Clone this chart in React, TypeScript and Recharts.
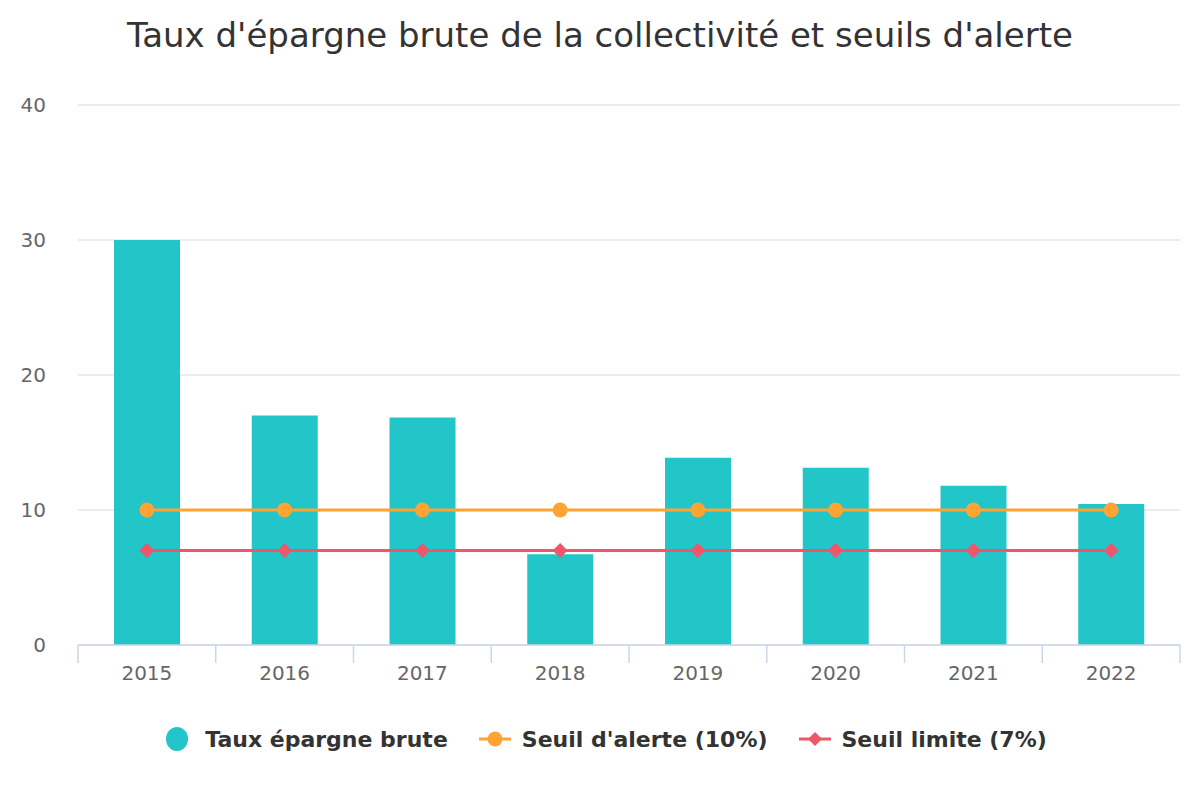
import React from "react";
import {
  Bar,
  CartesianGrid,
  ComposedChart,
  Line,
  XAxis,
  YAxis,
} from "recharts";

const YEARS = ["2015", "2016", "2017", "2018", "2019", "2020", "2021", "2022"];
const EPARGNE = [30.0, 17.0, 16.85, 6.72, 13.87, 13.13, 11.79, 10.45];
const SEUIL_ALERTE = [10, 10, 10, 10, 10, 10, 10, 10];
const SEUIL_LIMITE = [7, 7, 7, 7, 7, 7, 7, 7];
const Y_TICKS = [0, 10, 20, 30, 40];

const TEAL = "#22c5c8";
const ORANGE = "#ffa333";
const RED = "#f0566a";
const FONT = "'DejaVu Sans', sans-serif";

const WIDTH = 1200;
const MARGIN = { top: 105, right: 20, left: 0, bottom: 0 };
const Y_WIDTH = 78;
const BAND = (WIDTH - MARGIN.right - Y_WIDTH) / YEARS.length;
const X_MARGIN = 20;

const data = YEARS.map((year, i) => ({
  year,
  epargne: EPARGNE[i],
  alerte: SEUIL_ALERTE[i],
  limite: SEUIL_LIMITE[i],
}));

function YearTick(props: any) {
  const { x, y, payload, index } = props;
  const axisY = y - X_MARGIN;
  const left = x - BAND / 2;
  return (
    <g>
      <line x1={left} x2={left} y1={axisY} y2={axisY + 18} stroke="#ccd6eb" strokeWidth={1.5} />
      {index === YEARS.length - 1 && (
        <line x1={left + BAND} x2={left + BAND} y1={axisY} y2={axisY + 18} stroke="#ccd6eb" strokeWidth={1.5} />
      )}
      <text x={x} y={y} dy={15} textAnchor="middle" fill="#666666" fontSize={20} fontFamily={FONT}>
        {payload.value}
      </text>
    </g>
  );
}

function Diamond(props: any) {
  const { cx, cy } = props;
  if (cx == null || cy == null) return null;
  const r = 7.5;
  return (
    <path
      d={`M${cx},${cy - r} L${cx + r},${cy} L${cx},${cy + r} L${cx - r},${cy} Z`}
      fill={RED}
    />
  );
}

function LegendItem({ kind, color, label }: { kind: string; color: string; label: string }) {
  return (
    <div style={{ display: "flex", alignItems: "center", gap: kind === "bar" ? 16 : 10 }}>
      <svg width={kind === "bar" ? 24 : 34} height={26}>
        {kind === "bar" && <ellipse cx={12} cy={13} rx={11} ry={12} fill={color} />}
        {kind !== "bar" && <line x1={1} x2={33} y1={13} y2={13} stroke={color} strokeWidth={3} />}
        {kind === "circle" && <circle cx={17} cy={13} r={7.5} fill={color} />}
        {kind === "diamond" && <path d="M17,6 L24,13 L17,20 L10,13 Z" fill={color} />}
      </svg>
      <span>{label}</span>
    </div>
  );
}

export default function App() {
  return (
    <div
      style={{
        position: "absolute",
        left: 0,
        top: 0,
        width: WIDTH,
        height: 800,
        background: "#ffffff",
        fontFamily: FONT,
      }}
    >
      <div
        style={{
          position: "absolute",
          top: 14,
          width: WIDTH,
          textAlign: "center",
          fontSize: 34,
          lineHeight: "42px",
          color: "#333333",
        }}
      >
        Taux d'épargne brute de la collectivité et seuils d'alerte
      </div>
      <ComposedChart width={WIDTH} height={700} data={data} margin={MARGIN}>
        <CartesianGrid vertical={false} stroke="#e6e6e6" strokeWidth={1.5} />
        <XAxis
          dataKey="year"
          height={55}
          axisLine={{ stroke: "#ccd6eb", strokeWidth: 1.5 }}
          tickLine={false}
          tickSize={0}
          tickMargin={X_MARGIN}
          tick={<YearTick />}
          interval={0}
        />
        <YAxis
          width={Y_WIDTH}
          domain={[0, 40]}
          ticks={Y_TICKS}
          axisLine={false}
          tickLine={false}
          tickMargin={26}
          tick={{ fill: "#666666", fontSize: 20, fontFamily: FONT }}
        />
        <Bar dataKey="epargne" fill={TEAL} barSize={66} isAnimationActive={false} />
        <Line
          dataKey="alerte"
          stroke={ORANGE}
          strokeWidth={3}
          dot={{ r: 7.5, fill: ORANGE, stroke: ORANGE, strokeWidth: 0 }}
          activeDot={false}
          isAnimationActive={false}
        />
        <Line
          dataKey="limite"
          stroke={RED}
          strokeWidth={3}
          dot={<Diamond />}
          activeDot={false}
          isAnimationActive={false}
        />
      </ComposedChart>
      <div
        style={{
          position: "absolute",
          top: 726,
          left: 6,
          width: WIDTH,
          display: "flex",
          justifyContent: "center",
          gap: 30,
          fontSize: 22,
          fontWeight: "bold",
          color: "#333333",
        }}
      >
        <LegendItem kind="bar" color={TEAL} label="Taux épargne brute" />
        <LegendItem kind="circle" color={ORANGE} label="Seuil d'alerte (10%)" />
        <LegendItem kind="diamond" color={RED} label="Seuil limite (7%)" />
      </div>
    </div>
  );
}
